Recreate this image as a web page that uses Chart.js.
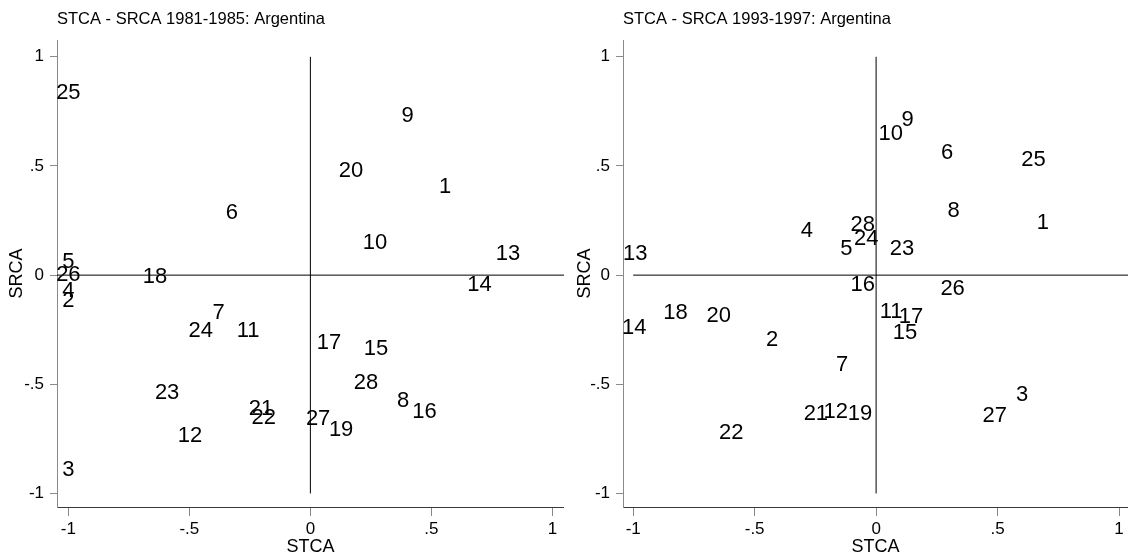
<!DOCTYPE html>
<html>
<head>
<meta charset="utf-8">
<script src="https://cdn.jsdelivr.net/npm/chart.js@4/dist/chart.umd.min.js"></script>
<style>
html, body { margin: 0; padding: 0; background: #fff; }
#wrap { display: flex; width: 1128px; height: 558px; }
canvas { display: block; }
</style>
</head>
<body>
<div id="wrap">
  <canvas id="panel1" width="564" height="558"></canvas>
  <canvas id="panel2" width="564" height="558"></canvas>
</div>
<script>
// 1981-1985 panel
const ids1  = ['25','9','20','1','6','10','13','5','26','18','14','4','2','7','24','11','17','15','28','23','8','16','21','22','27','19','12','3'];
const stca1 = [-1.0, 0.402, 0.168, 0.557, -0.324, 0.267, 0.817, -1.0, -1.0, -0.642, 0.699, -1.0, -1.0, -0.379, -0.453, -0.257, 0.077, 0.271, 0.230, -0.592, 0.383, 0.472, -0.204, -0.193, 0.032, 0.127, -0.497, -1.0];
const srca1 = [0.834, 0.730, 0.475, 0.403, 0.284, 0.147, 0.096, 0.060, 0.0, -0.010, -0.046, -0.072, -0.118, -0.173, -0.255, -0.255, -0.312, -0.339, -0.495, -0.539, -0.577, -0.626, -0.615, -0.652, -0.660, -0.707, -0.738, -0.890];

// 1993-1997 panel
const ids2  = ['10','9','6','25','8','1','4','28','24','5','23','13','16','26','11','17','15','18','20','14','2','7','3','27','21','12','19','22'];
const stca2 = [0.060, 0.130, 0.292, 0.648, 0.319, 0.687, -0.285, -0.055, -0.041, -0.122, 0.107, -0.992, -0.055, 0.315, 0.062, 0.144, 0.119, -0.826, -0.648, -0.996, -0.428, -0.140, 0.601, 0.488, -0.248, -0.166, -0.066, -0.596];
const srca2 = [0.645, 0.710, 0.560, 0.527, 0.293, 0.240, 0.202, 0.229, 0.165, 0.118, 0.122, 0.099, -0.046, -0.064, -0.168, -0.191, -0.264, -0.173, -0.188, -0.244, -0.298, -0.412, -0.550, -0.645, -0.637, -0.626, -0.637, -0.725];

const tickValues = [-1, -0.5, 0, 0.5, 1];
const tickLabels = ['-1', '-.5', '0', '.5', '1'];

const FONT = '"Liberation Sans", Arial, Helvetica, sans-serif';

// draws the number of each point at its position
const pointLabels = {
    id: 'pointLabels',
    afterDatasetsDraw(chart) {
        const ds = chart.data.datasets[0];
        const meta = chart.getDatasetMeta(0);
        const ctx = chart.ctx;
        ctx.save();
        ctx.font = '22px ' + FONT;
        ctx.fillStyle = '#000';
        ctx.textAlign = 'center';
        ctx.textBaseline = 'middle';
        meta.data.forEach((pt, i) => ctx.fillText(ds.ids[i], pt.x, pt.y));
        ctx.restore();
    }
};

// panel title, left aligned with the plot area
const panelTitle = {
    id: 'panelTitle',
    afterDraw(chart, args, opts) {
        const ctx = chart.ctx;
        ctx.save();
        ctx.font = '16.5px ' + FONT;
        ctx.fillStyle = '#000';
        ctx.textAlign = 'left';
        ctx.textBaseline = 'alphabetic';
        ctx.fillText(opts.text, chart.chartArea.left, 24);
        ctx.restore();
    }
};

function tickText(value) {
    const i = tickValues.indexOf(value);
    return i < 0 ? '' : tickLabels[i];
}

function makePanel(id, title, ids, xs, ys, xRange, yRange, hLineFrom, yAxisWidth, yTitlePad) {
    const pts = xs.map((x, i) => ({ x: x, y: ys[i] }));
    const vLine = [{ x: 0, y: -1 }, { x: 0, y: 1 }];
    const hLine = [{ x: hLineFrom, y: 0 }, { x: xRange[1], y: 0 }];
    return new Chart(document.getElementById(id), {
        type: 'scatter',
        data: {
            datasets: [
                { data: pts, ids: ids, pointRadius: 0, showLine: false },
                { data: vLine, showLine: true, pointRadius: 0, borderColor: '#000', borderWidth: 1 },
                { data: hLine, showLine: true, pointRadius: 0, borderColor: '#000', borderWidth: 1 }
            ]
        },
        options: {
            responsive: false,
            animation: false,
            events: [],
            layout: { padding: { top: 40, left: 0, right: 0, bottom: 0 }, autoPadding: false },
            plugins: {
                legend: { display: false },
                tooltip: { enabled: false },
                panelTitle: { text: title }
            },
            scales: {
                x: {
                    type: 'linear',
                    min: xRange[0],
                    max: xRange[1],
                    afterBuildTicks: s => { s.ticks = tickValues.map(v => ({ value: v })); },
                    afterFit: s => { s.height = 51; },
                    ticks: {
                        autoSkip: false,
                        maxRotation: 0,
                        color: '#000',
                        padding: 3,
                        font: { size: 17, family: FONT },
                        callback: tickText
                    },
                    grid: { display: true, drawOnChartArea: false, drawTicks: true, tickLength: 9, color: '#8a8a8a' },
                    border: { display: true, color: '#3a3a3a', width: 1 },
                    title: {
                        display: true,
                        text: 'STCA',
                        color: '#000',
                        font: { size: 18, family: FONT },
                        padding: { top: 0, bottom: 0 }
                    }
                },
                y: {
                    type: 'linear',
                    min: yRange[0],
                    max: yRange[1],
                    afterBuildTicks: s => { s.ticks = tickValues.map(v => ({ value: v })); },
                    afterFit: s => { s.width = yAxisWidth; },
                    ticks: {
                        autoSkip: false,
                        color: '#000',
                        padding: 6,
                        font: { size: 17, family: FONT },
                        callback: tickText
                    },
                    grid: { display: true, drawOnChartArea: false, drawTicks: true, tickLength: 7, color: '#8a8a8a' },
                    border: { display: true, color: '#8a8a8a', width: 1 },
                    title: {
                        display: true,
                        text: 'SRCA',
                        color: '#000',
                        font: { size: 18, family: FONT },
                        padding: { top: yTitlePad, bottom: 0 }
                    }
                }
            }
        },
        plugins: [pointLabels, panelTitle]
    });
}

makePanel('panel1', 'STCA - SRCA 1981-1985: Argentina', ids1, stca1, srca1,
    [-1.047, 1.048], [-1.062, 1.077], -1.047, 57, 6);
makePanel('panel2', 'STCA - SRCA 1993-1997: Argentina', ids2, stca2, srca2,
    [-1.042, 1.037], [-1.062, 1.077], -1.0, 59, 10);
</script>
</body>
</html>
